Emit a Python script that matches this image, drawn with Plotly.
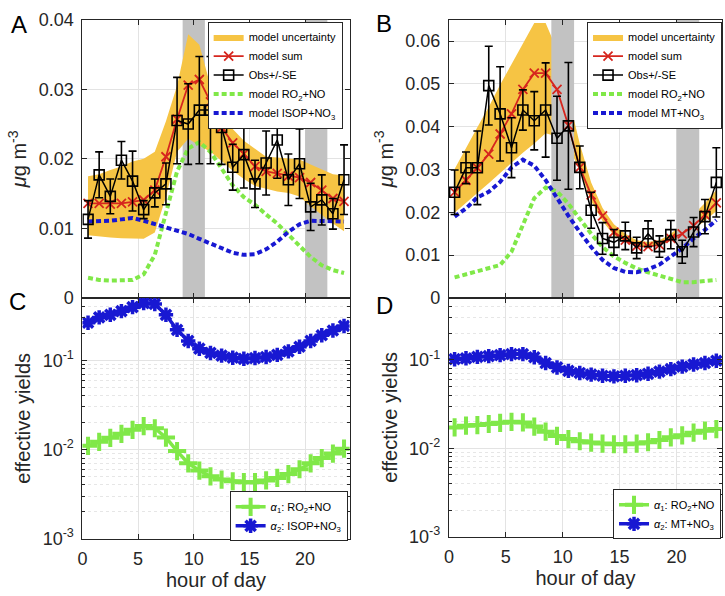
import plotly.graph_objects as go
import math

# ---------------- data ----------------
hours = [0.5, 1.5, 2.5, 3.5, 4.5, 5.5, 6.5, 7.5, 8.5, 9.5, 10.5, 11.5,
         12.5, 13.5, 14.5, 15.5, 16.5, 17.5, 18.5, 19.5, 20.5, 21.5, 22.5, 23.5]
shade_hours = [(9, 11), (20, 22)]

# Panel A (isoprene)
obsA = [0.0113, 0.0177, 0.0146, 0.0198, 0.0168, 0.0127, 0.0151, 0.0164, 0.0255, 0.0250, 0.0270, 0.0270,
        0.0245, 0.0188, 0.0206, 0.0164, 0.0194, 0.0227, 0.0170, 0.0193, 0.0131, 0.0141, 0.0121, 0.0170]
seA = [0.0027, 0.0033, 0.0025, 0.0027, 0.0043, 0.0013, 0.0020, 0.0030, 0.0062, 0.0058, 0.0077, 0.0077,
       0.0053, 0.0033, 0.0048, 0.0034, 0.0046, 0.0055, 0.0037, 0.0050, 0.0034, 0.0036, 0.0022, 0.0050]
sumA = [0.0136, 0.0136, 0.0135, 0.0136, 0.0138, 0.0141, 0.0155, 0.0203, 0.0257, 0.0306, 0.0314, 0.0282,
        0.0245, 0.0223, 0.0207, 0.0189, 0.0182, 0.0179, 0.0175, 0.0173, 0.0166, 0.0155, 0.0143, 0.0139]
bandA_up = [0.0175, 0.0178, 0.0184, 0.0189, 0.0196, 0.0200, 0.0210, 0.0254, 0.0305, 0.0379, 0.0364, 0.0305,
            0.0266, 0.0243, 0.0226, 0.0215, 0.0203, 0.0202, 0.0201, 0.0199, 0.0192, 0.0185, 0.0178, 0.0176]
bandA_lo = [0.0090, 0.0088, 0.0087, 0.0086, 0.0085, 0.0085, 0.0094, 0.0145, 0.0210, 0.0229, 0.0219, 0.0210,
            0.0197, 0.0183, 0.0171, 0.0161, 0.0157, 0.0153, 0.0151, 0.0146, 0.0132, 0.0119, 0.0107, 0.0096]
ro2A = [0.0029, 0.0026, 0.0025, 0.0025, 0.0026, 0.0034, 0.0062, 0.0122, 0.0182, 0.0215, 0.0224, 0.0210,
        0.0187, 0.0162, 0.0145, 0.0134, 0.0120, 0.0107, 0.0091, 0.0075, 0.0059, 0.0047, 0.0040, 0.0036]
no3A = [0.0110, 0.0110, 0.0111, 0.0113, 0.0115, 0.0111, 0.0106, 0.0101, 0.0097, 0.0092, 0.0085, 0.0078,
        0.0071, 0.0065, 0.0062, 0.0063, 0.0070, 0.0081, 0.0095, 0.0106, 0.0111, 0.0111, 0.0110, 0.0110]

# Panel B (monoterpenes)
obsB = [0.0247, 0.0304, 0.0304, 0.0496, 0.0430, 0.0351, 0.0439, 0.0414, 0.0439, 0.0373, 0.0402, 0.0305,
        0.0205, 0.0139, 0.0130, 0.0145, 0.0117, 0.0150, 0.0120, 0.0148, 0.0108, 0.0154, 0.0190, 0.0270]
seB = [0.0052, 0.0037, 0.0086, 0.0092, 0.0110, 0.0070, 0.0047, 0.0068, 0.0110, 0.0098, 0.0148, 0.0050,
       0.0042, 0.0037, 0.0030, 0.0032, 0.0025, 0.0030, 0.0025, 0.0033, 0.0027, 0.0034, 0.0040, 0.0081]
sumB = [0.0247, 0.0275, 0.0304, 0.0336, 0.0383, 0.0430, 0.0487, 0.0525, 0.0525, 0.0487, 0.0403, 0.0305,
        0.0241, 0.0192, 0.0154, 0.0135, 0.0121, 0.0120, 0.0124, 0.0139, 0.0150, 0.0169, 0.0194, 0.0222]
bandB_up = [0.0301, 0.0351, 0.0399, 0.0446, 0.0498, 0.0546, 0.0595, 0.0642, 0.0642, 0.0580, 0.0470, 0.0360,
            0.0270, 0.0210, 0.0172, 0.0150, 0.0135, 0.0131, 0.0135, 0.0150, 0.0173, 0.0195, 0.0222, 0.0252]
bandB_lo = [0.0199, 0.0223, 0.0245, 0.0268, 0.0292, 0.0315, 0.0339, 0.0361, 0.0385, 0.0377, 0.0355, 0.0297,
            0.0226, 0.0180, 0.0146, 0.0131, 0.0123, 0.0120, 0.0124, 0.0133, 0.0146, 0.0161, 0.0180, 0.0203]
ro2B = [0.0048, 0.0055, 0.0061, 0.0068, 0.0077, 0.0108, 0.0173, 0.0233, 0.0258, 0.0249, 0.0220, 0.0184,
        0.0150, 0.0119, 0.0097, 0.0082, 0.0069, 0.0060, 0.0052, 0.0043, 0.0037, 0.0037, 0.0039, 0.0042]
no3B = [0.0190, 0.0209, 0.0235, 0.0248, 0.0271, 0.0305, 0.0323, 0.0309, 0.0275, 0.0233, 0.0192, 0.0154,
        0.0119, 0.0089, 0.0070, 0.0061, 0.0060, 0.0067, 0.0078, 0.0097, 0.0116, 0.0139, 0.0159, 0.0182]

# Panel C / D (effective yields)
alpha1C = [0.0110, 0.0122, 0.0135, 0.0150, 0.0166, 0.0183, 0.0173, 0.0136, 0.0096, 0.0070, 0.0058, 0.0050,
           0.0046, 0.0044, 0.0043, 0.0043, 0.0045, 0.0048, 0.0053, 0.0060, 0.0070, 0.0080, 0.0090, 0.0102]
alpha2C = [0.264, 0.303, 0.324, 0.356, 0.395, 0.439, 0.428, 0.324, 0.220, 0.165, 0.135, 0.121,
           0.113, 0.107, 0.104, 0.106, 0.109, 0.115, 0.126, 0.142, 0.165, 0.191, 0.216, 0.243]
alpha1D = [0.0172, 0.0180, 0.0183, 0.0188, 0.0194, 0.0199, 0.0196, 0.0176, 0.0154, 0.0138, 0.0127, 0.0120,
           0.0116, 0.0113, 0.0111, 0.0111, 0.0113, 0.0117, 0.0124, 0.0133, 0.0140, 0.0150, 0.0158, 0.0165]
alpha2D = [0.1016, 0.104, 0.108, 0.110, 0.113, 0.116, 0.116, 0.107, 0.092, 0.082, 0.075, 0.071,
           0.068, 0.066, 0.065, 0.066, 0.067, 0.0695, 0.0735, 0.0785, 0.0838, 0.0886, 0.092, 0.0976]

xticks = [0, 5, 10, 15, 20]
yticksA = [0, 0.01, 0.02, 0.03, 0.04]
yticksB = [0, 0.01, 0.02, 0.03, 0.04, 0.05, 0.06]
logticks = [0.001, 0.01, 0.1]
logticktext = ["10<sup>-3</sup>", "10<sup>-2</sup>", "10<sup>-1</sup>"]
logminor = [m * d for d in (0.001, 0.01) for m in range(2, 10)] + [0.2, 0.3, 0.4]
yrangeA = [0, 0.04]
yrangeB = [0, 0.065]
yrangeLog = [0.001, 0.5]

# ---------------- styles ----------------
C_BAND = "rgb(246,196,68)"
C_RED = "rgb(214,38,30)"
C_GREEN = "rgb(128,232,72)"
C_BLUE = "rgb(24,24,210)"
C_GRAY = "rgb(194,194,194)"
FONT = "Liberation Sans, Arial, Helvetica, sans-serif"
AX = "#262626"

fig = go.Figure()


def shade_trace(xa, ya, yr):
    xs, ys = [], []
    for a, b in shade_hours:
        xs += [a, b, b, a, a, None]
        ys += [yr[0], yr[0], yr[1], yr[1], yr[0], None]
    return go.Scatter(x=xs, y=ys, mode="lines", fill="toself", fillcolor=C_GRAY,
                      line=dict(width=0, color=C_GRAY), showlegend=False, hoverinfo="skip",
                      xaxis=xa, yaxis=ya)


def conc_panel(xa, ya, leg, obs, se, msum, up, lo, ro2, no3, no3name, yr, shade_first):
    if shade_first:
        fig.add_trace(shade_trace(xa, ya, yr))
    fig.add_trace(go.Scatter(x=hours, y=lo, mode="lines", line=dict(width=0, color=C_BAND),
                             showlegend=False, hoverinfo="skip", xaxis=xa, yaxis=ya, legend=leg))
    fig.add_trace(go.Scatter(x=hours, y=up, mode="lines", fill="tonexty", fillcolor=C_BAND,
                             line=dict(width=0, color=C_BAND), name="model uncertainty",
                             legendrank=1, xaxis=xa, yaxis=ya, legend=leg))
    if not shade_first:
        fig.add_trace(shade_trace(xa, ya, yr))
    fig.add_trace(go.Scatter(x=hours, y=ro2, mode="lines",
                             line=dict(color=C_GREEN, width=4, dash="5px,3px"),
                             name="model RO<sub>2</sub>+NO", legendrank=4,
                             xaxis=xa, yaxis=ya, legend=leg))
    fig.add_trace(go.Scatter(x=hours, y=no3, mode="lines",
                             line=dict(color=C_BLUE, width=4, dash="5px,3px"),
                             name=no3name, legendrank=5, xaxis=xa, yaxis=ya, legend=leg))
    fig.add_trace(go.Scatter(x=hours, y=msum, mode="lines+markers",
                             line=dict(color=C_RED, width=1.8),
                             marker=dict(symbol="x-thin-open", size=9, color=C_RED,
                                         line=dict(color=C_RED, width=1.8)),
                             name="model sum", legendrank=2, xaxis=xa, yaxis=ya, legend=leg))
    fig.add_trace(go.Scatter(x=hours, y=obs, mode="lines+markers",
                             line=dict(color="black", width=1.5),
                             marker=dict(symbol="square-open", size=10, color="black",
                                         line=dict(color="black", width=1.6)),
                             error_y=dict(type="data", array=se, color="black", thickness=1.6, width=4),
                             name="Obs+/-SE", legendrank=3, xaxis=xa, yaxis=ya, legend=leg))


def yield_panel(xa, ya, leg, a1, a2, name2):
    fig.add_trace(go.Scatter(x=hours, y=a1, mode="lines+markers",
                             line=dict(color=C_GREEN, width=3.5),
                             marker=dict(symbol="cross-thin-open", size=13, color=C_GREEN,
                                         line=dict(color=C_GREEN, width=4)),
                             name="<i>α</i><sub>1</sub>: RO<sub>2</sub>+NO", legendrank=1,
                             xaxis=xa, yaxis=ya, legend=leg))
    fig.add_trace(go.Scatter(x=hours, y=a2, mode="lines+markers",
                             line=dict(color=C_BLUE, width=3.5),
                             marker=dict(symbol="asterisk-open", size=12, color=C_BLUE,
                                         line=dict(color=C_BLUE, width=3.5)),
                             name=name2, legendrank=2, xaxis=xa, yaxis=ya, legend=leg))


conc_panel("x", "y", "legend", obsA, seA, sumA, bandA_up, bandA_lo, ro2A, no3A,
           "model ISOP+NO<sub>3</sub>", yrangeA, True)
conc_panel("x2", "y2", "legend2", obsB, seB, sumB, bandB_up, bandB_lo, ro2B, no3B,
           "model MT+NO<sub>3</sub>", yrangeB, False)
yield_panel("x3", "y3", "legend3", alpha1C, alpha2C, "<i>α</i><sub>2</sub>: ISOP+NO<sub>3</sub>")
yield_panel("x4", "y4", "legend4", alpha1D, alpha2D, "<i>α</i><sub>2</sub>: MT+NO<sub>3</sub>")

W, H = 725, 596
dxL = [78 / W, 347 / W]
dxR = [447 / W, 722 / W]
dyTop = [1 - 298 / H, 1 - 10 / H]
dyC = [1 - 547 / H, 1 - 298 / H]
dyD = [1 - 545 / H, 1 - 298 / H]

base = dict(showline=True, linecolor=AX, linewidth=1, mirror="allticks", ticks="inside",
            ticklen=5, tickcolor=AX, showgrid=True, gridcolor="#e3e3e3", gridwidth=1,
            zeroline=False, tickfont=dict(size=18, color=AX), ticklabelstandoff=4)


def xax(domain, anchor, labels):
    d = dict(base, domain=domain, anchor=anchor, range=[0, 24], tickvals=xticks,
             showticklabels=labels)
    if labels:
        d["title"] = dict(text="hour of day", font=dict(size=20, color=AX), standoff=4)
    return d


def yax_lin(domain, anchor, yr, ticks):
    return dict(base, domain=domain, anchor=anchor, range=yr, tickvals=ticks,
                ticktext=["0" if t == 0 else ("%.2f" % t) for t in ticks],
                title=dict(text="<i>μ</i>g m<sup>-3</sup>", font=dict(size=20, color=AX), standoff=6))


def yax_log(domain, anchor):
    return dict(base, domain=domain, anchor=anchor, type="log",
                range=[math.log10(yrangeLog[0]), math.log10(yrangeLog[1])],
                tickvals=logticks, ticktext=logticktext,
                minor=dict(tickvals=logminor, showgrid=True, gridcolor="#e6e6e6", griddash="dot",
                           ticks="inside", ticklen=3, tickcolor=AX),
                title=dict(text="effective yields", font=dict(size=20, color=AX), standoff=6))


leg_base = dict(bgcolor="white", bordercolor=AX, borderwidth=1, font=dict(size=11, color="black"),
                itemwidth=30, xanchor="right", yanchor="top", tracegroupgap=0, traceorder="normal")

fig.update_layout(
    width=W, height=H, margin=dict(l=0, r=0, t=0, b=0),
    paper_bgcolor="white", plot_bgcolor="white",
    font=dict(family=FONT, color=AX),
    xaxis=xax(dxL, "y", False), yaxis=yax_lin(dyTop, "x", yrangeA, yticksA),
    xaxis2=xax(dxR, "y2", False), yaxis2=yax_lin(dyTop, "x2", yrangeB, yticksB),
    xaxis3=xax(dxL, "y3", True), yaxis3=yax_log(dyC, "x3"),
    xaxis4=xax(dxR, "y4", True), yaxis4=yax_log(dyD, "x4"),
    legend=dict(leg_base, x=340 / W, y=1 - 12 / H),
    legend2=dict(leg_base, x=722 / W, y=1 - 12 / H),
    legend3=dict(leg_base, x=345 / W, y=1 - 498 / H),
    legend4=dict(leg_base, x=721 / W, y=1 - 496 / H),
    showlegend=True,
)

for txt, px, py in [("A", 14, 15), ("B", 382, 14), ("C", 13, 302), ("D", 382, 306)]:
    fig.add_annotation(text=txt, x=px / W, y=1 - py / H, xref="paper", yref="paper",
                       showarrow=False, font=dict(size=24, color="black"),
                       xanchor="center", yanchor="middle")

fig.write_html("out.html", config={"displayModeBar": False},
               post_script="document.body.style.margin='0';document.body.style.overflow='hidden';")
